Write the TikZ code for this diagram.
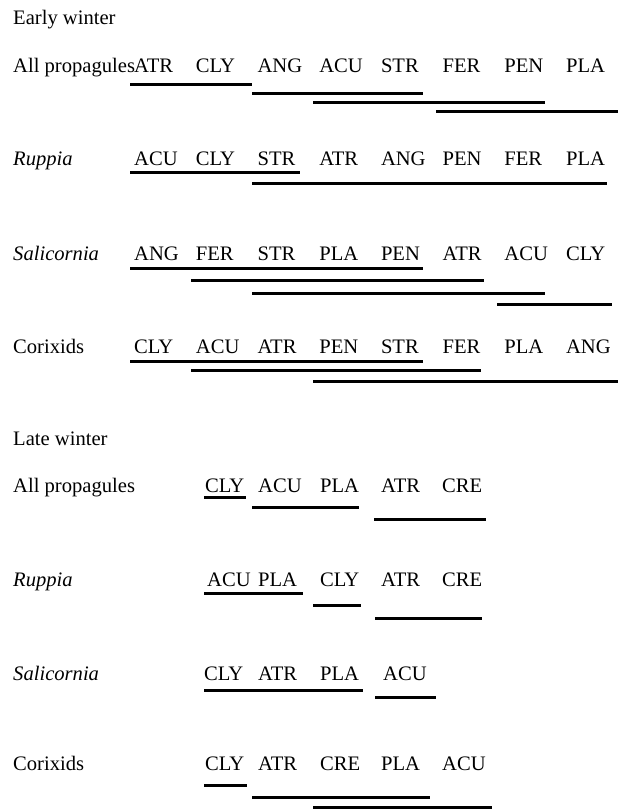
\documentclass[tikz,border=0pt]{standalone}
\usepackage{fontspec}
\setmainfont{Liberation Serif}
\begin{document}
\begin{tikzpicture}[x=1pt,y=-1pt,
   taxon/.style={anchor=base west,inner sep=0pt,font=\fontsize{20.6}{24}\selectfont},
   bar/.style={line width=3pt}]
   \useasboundingbox (0,0) rectangle (618,809);
   % early winter
   \node[taxon] (early) at (13,24.5) {Early winter};
   \node[taxon] (eall) at (13,72.5) {All propagules};
   \foreach \t [count=\i] in {ATR,CLY,ANG,ACU,STR,FER,PEN,PLA}
    \node[taxon] (eall\i) at ({134+61.7*(\i-1)},72.5) {\t};
   \draw[bar] (130,84) -- (252,84);
   \draw[bar] (252,93) -- (423,93);
   \draw[bar] (313,102) -- (545,102);
   \draw[bar] (436,111) -- (618,111);
   \node[taxon] (erup) at (13,165) {\itshape Ruppia};
   \foreach \t [count=\i] in {ACU,CLY,STR,ATR,ANG,PEN,FER,PLA}
    \node[taxon] (erup\i) at ({134+61.7*(\i-1)},165) {\t};
   \draw[bar] (130,172) -- (300,172);
   \draw[bar] (252,183) -- (607,183);
   \node[taxon] (esal) at (13,260) {\itshape Salicornia};
   \foreach \t [count=\i] in {ANG,FER,STR,PLA,PEN,ATR,ACU,CLY}
    \node[taxon] (esal\i) at ({134+61.7*(\i-1)},260) {\t};
   \draw[bar] (130,268) -- (423,268);
   \draw[bar] (191,280.5) -- (484,280.5);
   \draw[bar] (252,293) -- (545,293);
   \draw[bar] (497,304) -- (612,304);
   \node[taxon] (ecor) at (13,353) {Corixids};
   \foreach \t [count=\i] in {CLY,ACU,ATR,PEN,STR,FER,PLA,ANG}
    \node[taxon] (ecor\i) at ({134+61.7*(\i-1)},353) {\t};
   \draw[bar] (130,361) -- (423,361);
   \draw[bar] (191,370) -- (481,370);
   \draw[bar] (313,381) -- (618,381);
   % late winter
   \node[taxon] (late) at (13,445.5) {Late winter};
   \node[taxon] (lall) at (13,492) {All propagules};
   \foreach \t/\x [count=\i] in {CLY/205,ACU/258,PLA/320,ATR/381,CRE/442}
    \node[taxon] (lall\i) at (\x,492) {\t};
   \draw[bar] (204,497.5) -- (246,497.5);
   \draw[bar] (252,507) -- (359,507);
   \draw[bar] (374,519) -- (486,519);
   \node[taxon] (lrup) at (13,586) {\itshape Ruppia};
   \foreach \t/\x [count=\i] in {ACU/207,PLA/258,CLY/320,ATR/381,CRE/442}
    \node[taxon] (lrup\i) at (\x,586) {\t};
   \draw[bar] (204,593) -- (303,593);
   \draw[bar] (313,605) -- (361,605);
   \draw[bar] (375,618) -- (482,618);
   \node[taxon] (lsal) at (13,680) {\itshape Salicornia};
   \foreach \t/\x [count=\i] in {CLY/204,ATR/258,PLA/320,ACU/383}
    \node[taxon] (lsal\i) at (\x,680) {\t};
   \draw[bar] (204,690) -- (363,690);
   \draw[bar] (375,697) -- (436,697);
   \node[taxon] (lcor) at (13,770) {Corixids};
   \foreach \t/\x [count=\i] in {CLY/205,ATR/258,CRE/320,PLA/381,ACU/442}
    \node[taxon] (lcor\i) at (\x,770) {\t};
   \draw[bar] (204,785) -- (247,785);
   \draw[bar] (252,797) -- (430,797);
   \draw[bar] (313,807.5) -- (492,807.5);
\end{tikzpicture}
\end{document}
